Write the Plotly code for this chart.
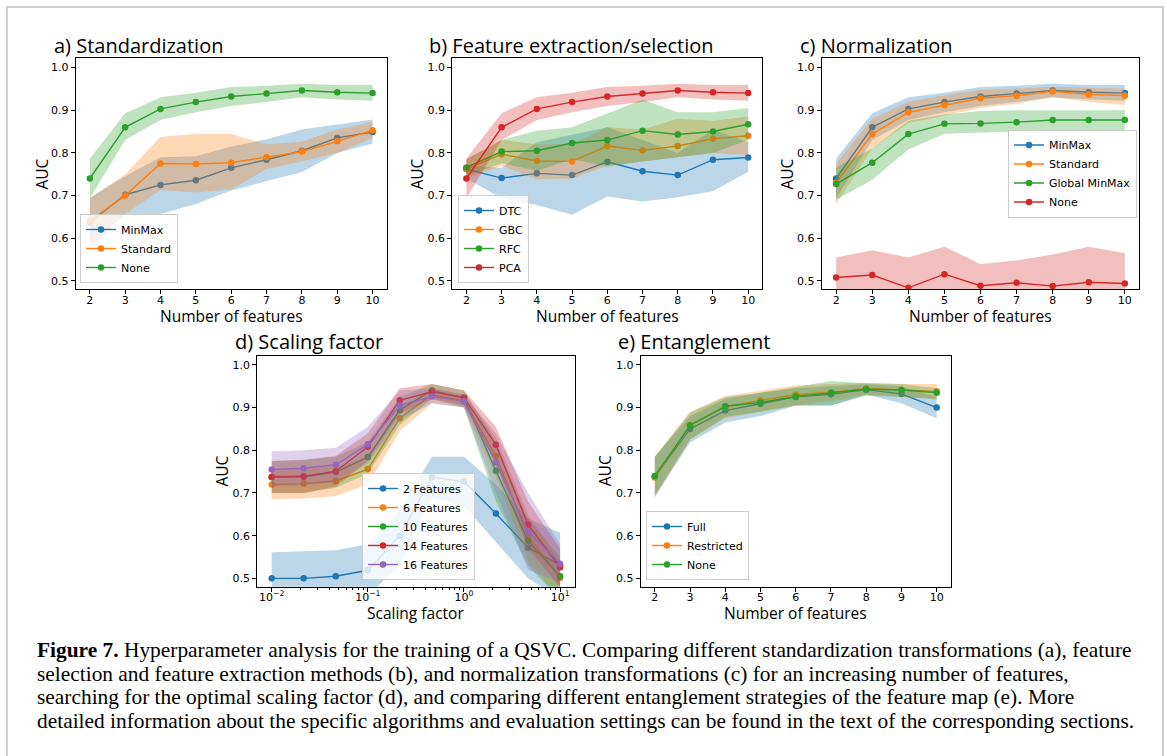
import plotly.graph_objects as go

# ---------------- data ----------------
features = [2, 3, 4, 5, 6, 7, 8, 9, 10]
scaling = [0.01, 0.0215, 0.0464, 0.1, 0.215, 0.464, 1.0, 2.15, 4.64, 10.0]

# a) Standardization
a_minmax = [0.637, 0.702, 0.725, 0.736, 0.765, 0.784, 0.805, 0.835, 0.849]
a_minmax_lo = [0.575, 0.657, 0.657, 0.680, 0.712, 0.733, 0.755, 0.800, 0.822]
a_minmax_hi = [0.695, 0.745, 0.790, 0.792, 0.815, 0.832, 0.855, 0.866, 0.878]
a_standard = [0.641, 0.700, 0.775, 0.774, 0.777, 0.790, 0.803, 0.827, 0.853]
a_standard_lo = [0.585, 0.657, 0.713, 0.707, 0.715, 0.762, 0.780, 0.800, 0.835]
a_standard_hi = [0.693, 0.750, 0.838, 0.844, 0.844, 0.820, 0.826, 0.855, 0.873]
a_none = [0.740, 0.860, 0.903, 0.919, 0.932, 0.939, 0.946, 0.942, 0.940]
a_none_lo = [0.694, 0.830, 0.877, 0.895, 0.910, 0.919, 0.930, 0.925, 0.922]
a_none_hi = [0.787, 0.893, 0.930, 0.941, 0.954, 0.957, 0.962, 0.959, 0.959]

# b) Feature extraction/selection
b_dtc = [0.762, 0.741, 0.752, 0.748, 0.779, 0.757, 0.748, 0.784, 0.789]
b_dtc_lo = [0.740, 0.694, 0.678, 0.655, 0.698, 0.686, 0.696, 0.710, 0.756]
b_dtc_hi = [0.770, 0.765, 0.825, 0.842, 0.860, 0.830, 0.800, 0.855, 0.825]
b_gbc = [0.762, 0.797, 0.781, 0.780, 0.816, 0.806, 0.816, 0.833, 0.840]
b_gbc_lo = [0.740, 0.770, 0.738, 0.740, 0.770, 0.780, 0.790, 0.800, 0.795]
b_gbc_hi = [0.785, 0.830, 0.820, 0.820, 0.860, 0.855, 0.880, 0.875, 0.885]
b_rfc = [0.766, 0.803, 0.805, 0.823, 0.830, 0.852, 0.843, 0.850, 0.867]
b_rfc_lo = [0.745, 0.776, 0.758, 0.785, 0.768, 0.780, 0.790, 0.800, 0.830]
b_rfc_hi = [0.785, 0.830, 0.852, 0.860, 0.892, 0.925, 0.895, 0.895, 0.905]
b_pca = [0.740, 0.860, 0.903, 0.919, 0.932, 0.939, 0.946, 0.942, 0.940]
b_pca_lo = [0.694, 0.830, 0.877, 0.895, 0.910, 0.919, 0.930, 0.925, 0.922]
b_pca_hi = [0.787, 0.893, 0.930, 0.941, 0.954, 0.957, 0.962, 0.959, 0.959]

# c) Normalization
c_minmax = [0.740, 0.860, 0.903, 0.919, 0.932, 0.939, 0.946, 0.942, 0.940]
c_minmax_lo = [0.694, 0.830, 0.877, 0.895, 0.910, 0.919, 0.930, 0.925, 0.922]
c_minmax_hi = [0.787, 0.893, 0.930, 0.941, 0.954, 0.957, 0.962, 0.959, 0.959]
c_standard = [0.730, 0.844, 0.895, 0.912, 0.928, 0.934, 0.944, 0.937, 0.934]
c_standard_lo = [0.680, 0.810, 0.870, 0.888, 0.905, 0.915, 0.930, 0.920, 0.912]
c_standard_hi = [0.775, 0.880, 0.920, 0.935, 0.948, 0.950, 0.955, 0.952, 0.950]
c_global = [0.727, 0.777, 0.844, 0.868, 0.869, 0.872, 0.877, 0.877, 0.877]
c_global_lo = [0.690, 0.737, 0.808, 0.845, 0.848, 0.850, 0.852, 0.852, 0.852]
c_global_hi = [0.765, 0.810, 0.875, 0.890, 0.898, 0.900, 0.900, 0.900, 0.900]
c_none = [0.508, 0.514, 0.484, 0.516, 0.489, 0.496, 0.488, 0.497, 0.494]
c_none_lo = [0.440, 0.440, 0.420, 0.445, 0.430, 0.440, 0.420, 0.420, 0.425]
c_none_hi = [0.555, 0.572, 0.555, 0.580, 0.540, 0.548, 0.562, 0.580, 0.565]

# d) Scaling factor
d_f2 = [0.500, 0.500, 0.505, 0.519, 0.600, 0.737, 0.727, 0.652, 0.572, 0.531]
d_f2_lo = [0.440, 0.440, 0.445, 0.460, 0.530, 0.690, 0.670, 0.585, 0.500, 0.455]
d_f2_hi = [0.561, 0.563, 0.566, 0.580, 0.660, 0.785, 0.785, 0.720, 0.640, 0.607]
d_f6 = [0.720, 0.722, 0.728, 0.756, 0.875, 0.930, 0.916, 0.786, 0.600, 0.501]
d_f6_lo = [0.685, 0.687, 0.693, 0.720, 0.845, 0.910, 0.900, 0.740, 0.540, 0.450]
d_f6_hi = [0.755, 0.757, 0.760, 0.785, 0.900, 0.945, 0.930, 0.830, 0.650, 0.540]
d_f10 = [0.737, 0.738, 0.749, 0.784, 0.894, 0.940, 0.923, 0.752, 0.588, 0.505]
d_f10_lo = [0.700, 0.700, 0.712, 0.745, 0.860, 0.920, 0.900, 0.680, 0.530, 0.450]
d_f10_hi = [0.775, 0.777, 0.785, 0.820, 0.925, 0.955, 0.940, 0.820, 0.640, 0.550]
d_f14 = [0.738, 0.739, 0.751, 0.808, 0.917, 0.937, 0.923, 0.813, 0.626, 0.526]
d_f14_lo = [0.700, 0.700, 0.715, 0.775, 0.885, 0.920, 0.905, 0.770, 0.570, 0.480]
d_f14_hi = [0.775, 0.778, 0.787, 0.840, 0.945, 0.955, 0.940, 0.855, 0.680, 0.570]
d_f16 = [0.755, 0.758, 0.766, 0.814, 0.905, 0.926, 0.915, 0.772, 0.610, 0.534]
d_f16_lo = [0.715, 0.717, 0.725, 0.770, 0.870, 0.910, 0.900, 0.700, 0.520, 0.490]
d_f16_hi = [0.797, 0.800, 0.806, 0.855, 0.940, 0.945, 0.930, 0.840, 0.700, 0.580]

# e) Entanglement
e_full = [0.738, 0.850, 0.893, 0.909, 0.925, 0.931, 0.942, 0.932, 0.900]
e_full_lo = [0.690, 0.818, 0.865, 0.880, 0.905, 0.905, 0.930, 0.910, 0.875]
e_full_hi = [0.785, 0.880, 0.920, 0.935, 0.945, 0.950, 0.955, 0.950, 0.925]
e_restricted = [0.736, 0.859, 0.902, 0.917, 0.930, 0.936, 0.945, 0.941, 0.938]
e_restricted_lo = [0.690, 0.825, 0.875, 0.890, 0.905, 0.915, 0.930, 0.925, 0.920]
e_restricted_hi = [0.785, 0.890, 0.927, 0.940, 0.952, 0.955, 0.958, 0.955, 0.955]
e_none = [0.740, 0.858, 0.903, 0.912, 0.926, 0.934, 0.943, 0.941, 0.935]
e_none_lo = [0.695, 0.825, 0.878, 0.890, 0.905, 0.905, 0.928, 0.925, 0.920]
e_none_hi = [0.785, 0.888, 0.925, 0.935, 0.948, 0.962, 0.957, 0.955, 0.945]

panel_titles = ["a) Standardization", "b) Feature extraction/selection", "c) Normalization",
                "d) Scaling factor", "e) Entanglement"]
y_ticks = [0.5, 0.6, 0.7, 0.8, 0.9, 1.0]
log_tickvals = [0.01, 0.1, 1, 10]
log_ticktext = ["10<sup>−2</sup>", "10<sup>−1</sup>", "10<sup>0</sup>", "10<sup>1</sup>"]
log_minor = [m * d for d in (0.01, 0.1, 1) for m in range(2, 10)]
caption_lines = [
    "<b>Figure 7.</b> Hyperparameter analysis for the training of a QSVC. Comparing different standardization transformations (a), feature",
    "selection and feature extraction methods (b), and normalization transformations (c) for an increasing number of features,",
    "searching for the optimal scaling factor (d), and comparing different entanglement strategies of the feature map (e). More",
    "detailed information about the specific algorithms and evaluation settings can be found in the text of the corresponding sections.",
]

# ---------------- styling ----------------
W, H = 1167, 756
C = {"C0": (31, 119, 180), "C1": (255, 127, 14), "C2": (44, 160, 44), "C3": (214, 39, 40), "C4": (148, 103, 189)}
TICKFONT = dict(family="DejaVu Sans", size=11, color="black")
LABELFONT = dict(family="Open Sans", size=15.5, color="black")
TITLEFONT = dict(family="Open Sans", size=20, color="black")
LEGFONT = dict(family="DejaVu Sans", size=11, color="black")

# axes boxes in pixels: (left, right, top, bottom)
boxes = [
    (75.7, 386.7, 58.3, 289.3),
    (452.3, 762.3, 58.3, 289.3),
    (821.7, 1139.3, 58.3, 289.3),
    (257.3, 574.5, 355.7, 586.7),
    (640.7, 950.8, 355.7, 586.7),
]

def px(x):
    return x / W

def py(y):
    return 1 - y / H

fig = go.Figure()

def add_series(idx, x, y, lo, hi, ckey, name):
    r, g, b = C[ckey]
    sfx = "" if idx == 1 else str(idx)
    xa, ya = "x" + sfx, "y" + sfx
    leg = "legend" if idx == 1 else "legend" + str(idx)
    fig.add_trace(go.Scatter(
        x=x, y=y, mode="lines+markers", name=name, xaxis=xa, yaxis=ya, legend=leg,
        line=dict(color=f"rgb({r},{g},{b})", width=1.4),
        marker=dict(color=f"rgb({r},{g},{b})", size=6.5),
    ))
    fig.add_trace(go.Scatter(
        x=list(x) + list(x)[::-1], y=list(hi) + list(lo)[::-1], mode="lines",
        fill="toself", fillcolor=f"rgba({r},{g},{b},0.3)", line=dict(width=0),
        xaxis=xa, yaxis=ya, showlegend=False, hoverinfo="skip",
    ))

add_series(1, features, a_minmax, a_minmax_lo, a_minmax_hi, "C0", "MinMax")
add_series(1, features, a_standard, a_standard_lo, a_standard_hi, "C1", "Standard")
add_series(1, features, a_none, a_none_lo, a_none_hi, "C2", "None")

add_series(2, features, b_dtc, b_dtc_lo, b_dtc_hi, "C0", "DTC")
add_series(2, features, b_gbc, b_gbc_lo, b_gbc_hi, "C1", "GBC")
add_series(2, features, b_rfc, b_rfc_lo, b_rfc_hi, "C2", "RFC")
add_series(2, features, b_pca, b_pca_lo, b_pca_hi, "C3", "PCA")

add_series(3, features, c_minmax, c_minmax_lo, c_minmax_hi, "C0", "MinMax")
add_series(3, features, c_standard, c_standard_lo, c_standard_hi, "C1", "Standard")
add_series(3, features, c_global, c_global_lo, c_global_hi, "C2", "Global MinMax")
add_series(3, features, c_none, c_none_lo, c_none_hi, "C3", "None")

add_series(4, scaling, d_f2, d_f2_lo, d_f2_hi, "C0", "2 Features")
add_series(4, scaling, d_f6, d_f6_lo, d_f6_hi, "C1", "6 Features")
add_series(4, scaling, d_f10, d_f10_lo, d_f10_hi, "C2", "10 Features")
add_series(4, scaling, d_f14, d_f14_lo, d_f14_hi, "C3", "14 Features")
add_series(4, scaling, d_f16, d_f16_lo, d_f16_hi, "C4", "16 Features")

add_series(5, features, e_full, e_full_lo, e_full_hi, "C0", "Full")
add_series(5, features, e_restricted, e_restricted_lo, e_restricted_hi, "C1", "Restricted")
add_series(5, features, e_none, e_none_lo, e_none_hi, "C2", "None")

layout = dict(
    width=W, height=H, margin=dict(l=0, r=0, t=0, b=0),
    paper_bgcolor="white", plot_bgcolor="white",
)

axis_common = dict(
    showline=True, linecolor="black", linewidth=1, mirror=True,
    ticks="outside", ticklen=4, tickwidth=1, tickcolor="black",
    showgrid=False, zeroline=False, tickfont=TICKFONT, automargin=False,
)

for i, (l, r, t, b) in enumerate(boxes, start=1):
    sfx = "" if i == 1 else str(i)
    xa = dict(axis_common, domain=[px(l), px(r)], anchor="y" + sfx, ticklabelstandoff=-4)
    ya = dict(axis_common, domain=[py(b), py(t)], anchor="x" + sfx,
              range=[0.4805, 1.0215], tickvals=y_ticks, tickformat=".1f")
    if i == 4:
        xa.update(type="log", range=[-2.15, 1.15], tickvals=log_tickvals, ticktext=log_ticktext,
                  minor=dict(tickvals=log_minor, ticks="outside", ticklen=2, tickcolor="black", tickwidth=0.8))
    else:
        xa.update(range=[1.6, 10.4], tickvals=features)
    layout["xaxis" + sfx] = xa
    layout["yaxis" + sfx] = ya

leg_common = dict(font=LEGFONT, bgcolor="rgba(255,255,255,0.8)", bordercolor="#cccccc",
                  borderwidth=1, xanchor="left", itemwidth=30, tracegroupgap=0)
# (x, y, yanchor) in pixels
leg_pos = [(80, 283, "bottom"), (458, 283, "bottom"), (1008, 173.5, "middle"),
           (362, 580, "bottom"), (646, 580, "bottom")]
for i, (lx, ly, anc) in enumerate(leg_pos, start=1):
    key = "legend" if i == 1 else "legend" + str(i)
    layout[key] = dict(leg_common, x=px(lx), y=py(ly), yanchor=anc)

annotations = []
title_pos = [(51.7, 45), (426.7, 45), (798.3, 45), (233.3, 341), (616, 341)]
for txt, (tx, ty) in zip(panel_titles, title_pos):
    annotations.append(dict(text=txt, x=px(tx), y=py(ty), xref="paper", yref="paper",
                            xanchor="left", yanchor="middle", showarrow=False, font=TITLEFONT))

xlabels = ["Number of features", "Number of features", "Number of features", "Scaling factor", "Number of features"]
xlabel_y = [316, 316, 316, 613, 613]
ylabel_x = [41.7, 416.7, 786.7, 222.3, 605]
for i, (l, r, t, b) in enumerate(boxes):
    annotations.append(dict(text=xlabels[i], x=px((l + r) / 2), y=py(xlabel_y[i]), xref="paper", yref="paper",
                            xanchor="center", yanchor="middle", showarrow=False, font=LABELFONT))
    annotations.append(dict(text="AUC", x=px(ylabel_x[i]), y=py((t + b) / 2), xref="paper", yref="paper",
                            xanchor="center", yanchor="middle", showarrow=False, font=LABELFONT, textangle=-90))

cap_y = [650, 673.5, 697, 720.5]
for line, cy in zip(caption_lines, cap_y):
    annotations.append(dict(text=line, x=px(35), y=py(cy), xref="paper", yref="paper",
                            xanchor="left", yanchor="middle", showarrow=False,
                            font=dict(family="Liberation Serif", size=21.4, color="black")))

layout["annotations"] = annotations
layout["shapes"] = [dict(type="rect", xref="paper", yref="paper", x0=px(7), x1=px(1163), y0=-0.05, y1=py(7),
                         line=dict(color="#cfcfcf", width=2), fillcolor="rgba(0,0,0,0)", layer="below")]

fig.update_layout(**layout)
fig.write_html("out.html", config={"displayModeBar": False},
               post_script="document.body.style.margin='0px';")
